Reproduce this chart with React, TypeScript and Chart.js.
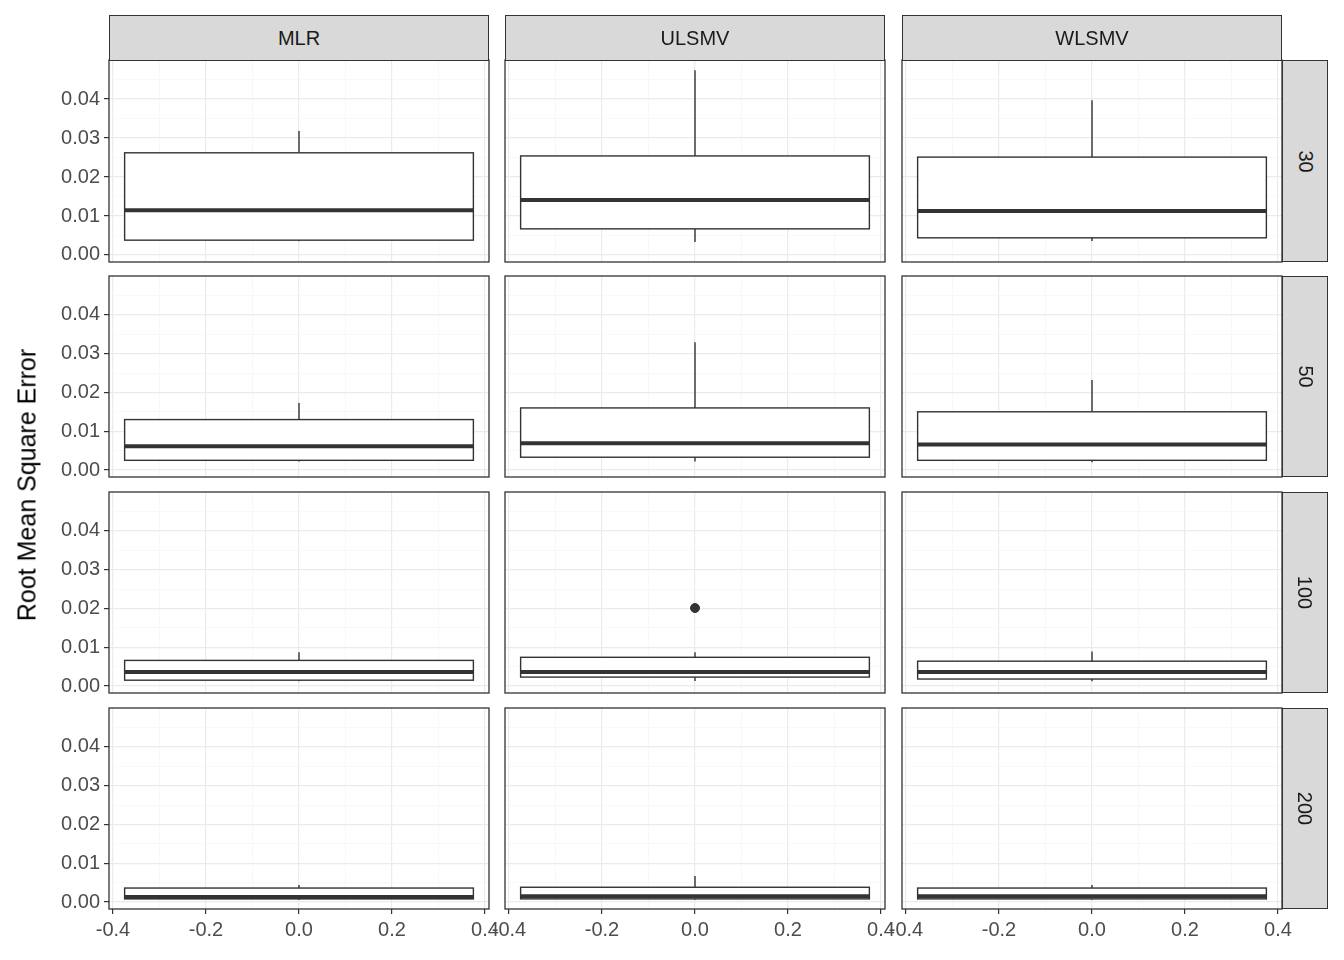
import React, { useEffect, useRef } from "react";
import { Chart, registerables } from "chart.js";
Chart.register(...registerables);

const methods = ["MLR", "ULSMV", "WLSMV"];
const sampleSizes = ["30", "50", "100", "200"];
// rows = sample sizes, columns = methods
const lowerWhisker = [
  [0.0035, 0.0033, 0.0036],
  [0.0022, 0.0022, 0.002],
  [0.0012, 0.0013, 0.0012],
  [0.0006, 0.0006, 0.0006],
];
const q1 = [
  [0.0038, 0.0067, 0.0044],
  [0.0025, 0.0033, 0.0025],
  [0.0015, 0.0023, 0.0018],
  [0.0008, 0.0008, 0.0008],
];
const median = [
  [0.0115, 0.0141, 0.0113],
  [0.0061, 0.0069, 0.0066],
  [0.0036, 0.0036, 0.0036],
  [0.0013, 0.0015, 0.0015],
];
const q3 = [
  [0.0262, 0.0254, 0.0251],
  [0.013, 0.016, 0.015],
  [0.0066, 0.0074, 0.0064],
  [0.0036, 0.0038, 0.0036],
];
const upperWhisker = [
  [0.0318, 0.0474, 0.0397],
  [0.0173, 0.0329, 0.0232],
  [0.0087, 0.0087, 0.0089],
  [0.0044, 0.0067, 0.0044],
];
const outliers = [
  [[], [], []],
  [[], [], []],
  [[], [0.0201], []],
  [[], [], []],
];
const xTicks = [-0.4, -0.3, -0.2, -0.1, 0, 0.1, 0.2, 0.3, 0.4];
const yTicks = [0, 0.005, 0.01, 0.015, 0.02, 0.025, 0.03, 0.035, 0.04, 0.045];
const xMajor = [-0.4, -0.2, 0, 0.2, 0.4];
const yMajor = [0, 0.01, 0.02, 0.03, 0.04];

const colX = [[109, 489], [505, 885], [902, 1282]];
const rowY = [[60, 262], [276, 477], [492, 693], [708, 909]];
const L = 100, B = 40, R = 30, T = 30;
const FONT = "'Liberation Sans', Arial, sans-serif";

const isMajor = (v: number, arr: number[]) => arr.some((m) => Math.abs(m - v) < 1e-9);
const fmt = (v: number, d: number) => (Math.abs(v) < 1e-9 ? (0).toFixed(d) : v.toFixed(d));

function Panel({ r, c }: { r: number; c: number }) {
  const ref = useRef<HTMLCanvasElement>(null);
  const [x0, x1] = colX[c];
  const [y0, y1] = rowY[r];
  const w = x1 - x0 + L + R;
  const h = y1 - y0 + B + T;
  useEffect(() => {
    const showY = c === 0;
    const showX = r === 3;
    const boxPlugin = {
      id: "box",
      beforeDatasetsDraw(chart: any) {
        const { ctx, scales } = chart;
        const xs = scales.x, ys = scales.y;
        const xc = xs.getPixelForValue(0);
        const xl = xs.getPixelForValue(-0.375);
        const xr = xs.getPixelForValue(0.375);
        ctx.save();
        ctx.strokeStyle = "#333333";
        ctx.lineWidth = 1.4;
        ctx.beginPath();
        ctx.moveTo(xc, ys.getPixelForValue(upperWhisker[r][c]));
        ctx.lineTo(xc, ys.getPixelForValue(q3[r][c]));
        ctx.moveTo(xc, ys.getPixelForValue(q1[r][c]));
        ctx.lineTo(xc, ys.getPixelForValue(lowerWhisker[r][c]));
        ctx.stroke();
        const yt = ys.getPixelForValue(q3[r][c]);
        const yb = ys.getPixelForValue(q1[r][c]);
        ctx.fillStyle = "#ffffff";
        ctx.fillRect(xl, yt, xr - xl, yb - yt);
        ctx.strokeRect(xl, yt, xr - xl, yb - yt);
        ctx.lineWidth = 4;
        const ym = ys.getPixelForValue(median[r][c]);
        ctx.beginPath();
        ctx.moveTo(xl, ym);
        ctx.lineTo(xr, ym);
        ctx.stroke();
        ctx.restore();
      },
      afterDraw(chart: any) {
        const { ctx, chartArea: a } = chart;
        ctx.save();
        ctx.strokeStyle = "#333333";
        ctx.lineWidth = 1.3;
        ctx.strokeRect(a.left, a.top, a.right - a.left, a.bottom - a.top);
        ctx.restore();
      },
    };
    const chart = new Chart(ref.current!, {
      type: "scatter",
      data: {
        datasets: [
          {
            data: outliers[r][c].map((v) => ({ x: 0, y: v })),
            pointRadius: 4.5,
            backgroundColor: "#333333",
            borderColor: "#333333",
          },
        ],
      },
      options: {
        animation: false,
        responsive: false,
        events: [],
        layout: { padding: { right: R, top: T, left: 0, bottom: 0 } },
        plugins: { legend: { display: false }, tooltip: { enabled: false } },
        scales: {
          x: {
            type: "linear",
            min: -0.4086,
            max: 0.4086,
            afterBuildTicks: (s: any) => { s.ticks = xTicks.map((v) => ({ value: v })); },
            afterFit: (s: any) => { s.height = B; },
            border: { display: false },
            grid: {
              color: (ctx: any) => (isMajor(ctx.tick?.value, xMajor) ? "#ebebeb" : "#f5f5f5"),
              lineWidth: (ctx: any) => (isMajor(ctx.tick?.value, xMajor) ? 1.2 : 0.7),
              drawTicks: showX,
              tickLength: 5,
              tickColor: (ctx: any) => (isMajor(ctx.tick?.value, xMajor) ? "#333333" : "rgba(0,0,0,0)"),
            },
            ticks: {
              display: showX,
              autoSkip: false,
              maxRotation: 0,
              padding: 4,
              color: "#4d4d4d",
              font: { family: FONT, size: 20 },
              callback: (v: any) => (isMajor(Number(v), xMajor) ? fmt(Number(v), 1) : ""),
            },
          },
          y: {
            type: "linear",
            min: -0.0018,
            max: 0.05,
            afterBuildTicks: (s: any) => { s.ticks = yTicks.map((v) => ({ value: v })); },
            afterFit: (s: any) => { s.width = L; },
            border: { display: false },
            grid: {
              color: (ctx: any) => (isMajor(ctx.tick?.value, yMajor) ? "#ebebeb" : "#f5f5f5"),
              lineWidth: (ctx: any) => (isMajor(ctx.tick?.value, yMajor) ? 1.2 : 0.7),
              drawTicks: showY,
              tickLength: 5,
              tickColor: (ctx: any) => (isMajor(ctx.tick?.value, yMajor) ? "#333333" : "rgba(0,0,0,0)"),
            },
            ticks: {
              display: showY,
              autoSkip: false,
              padding: 4,
              color: "#4d4d4d",
              font: { family: FONT, size: 20 },
              callback: (v: any) => (isMajor(Number(v), yMajor) ? fmt(Number(v), 2) : ""),
            },
          },
        },
      },
      plugins: [boxPlugin],
    } as any);
    return () => chart.destroy();
  }, [r, c]);
  return (
    <canvas
      ref={ref}
      width={w}
      height={h}
      style={{ position: "absolute", left: x0 - L, top: y0 - T, width: w, height: h }}
    />
  );
}

export default function App() {
  useEffect(() => {
    document.body.style.margin = "0";
  }, []);
  const stripStyle: React.CSSProperties = {
    position: "absolute",
    background: "#d9d9d9",
    border: "1.3px solid #333333",
    boxSizing: "border-box",
    display: "flex",
    alignItems: "center",
    justifyContent: "center",
    fontFamily: FONT,
    fontSize: 20,
    color: "#1a1a1a",
    zIndex: 5,
  };
  return (
    <div style={{ position: "relative", width: 1344, height: 960, background: "#fff", overflow: "hidden" }}>
      {sampleSizes.map((_, r) => methods.map((__, c) => <Panel key={`${r}-${c}`} r={r} c={c} />))}
      {methods.map((m, c) => (
        <div key={m} style={{ ...stripStyle, left: colX[c][0], top: 15, width: colX[c][1] - colX[c][0], height: 46 }}>
          {m}
        </div>
      ))}
      {sampleSizes.map((s, r) => (
        <div key={s} style={{ ...stripStyle, left: 1282, top: rowY[r][0], width: 46, height: rowY[r][1] - rowY[r][0] }}>
          <span style={{ transform: "rotate(90deg)", display: "inline-block" }}>{s}</span>
        </div>
      ))}
      <div
        style={{
          position: "absolute",
          left: 27,
          top: 485,
          transform: "translate(-50%, -50%) rotate(-90deg)",
          whiteSpace: "nowrap",
          fontFamily: FONT,
          fontSize: 25,
          color: "#000",
          zIndex: 5,
        }}
      >
        Root Mean Square Error
      </div>
    </div>
  );
}
